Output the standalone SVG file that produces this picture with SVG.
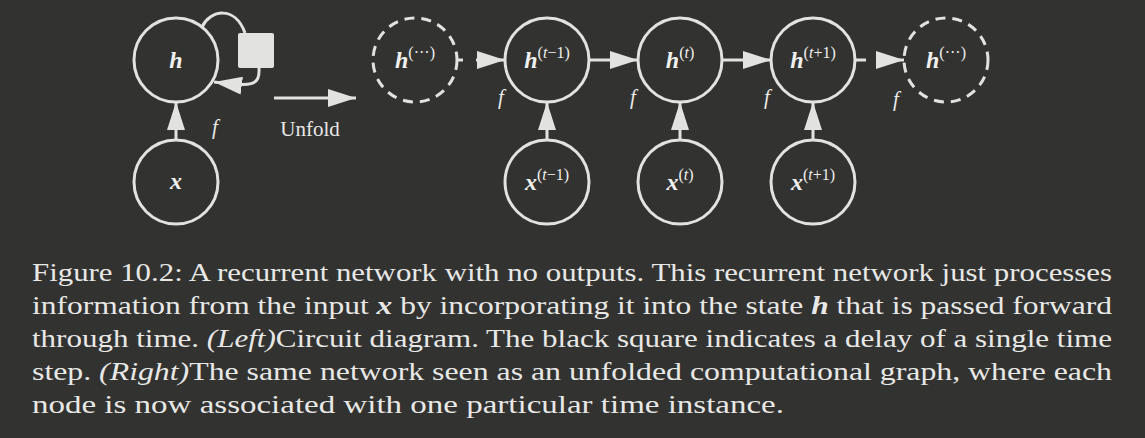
<svg xmlns="http://www.w3.org/2000/svg" width="1145" height="438" viewBox="0 0 1145 438">
<style>
.n{fill:none;stroke:#e2e2e0;stroke-width:3}
.d{stroke-dasharray:10,7}
.e{fill:none;stroke:#e2e2e0;stroke-width:3}
.m{font-family:"Liberation Serif",serif;font-weight:bold;font-style:italic;fill:#f0f0ee;font-size:24px;text-anchor:middle}
.s{font-family:"Liberation Serif",serif;font-style:normal;font-weight:normal;font-size:16px}
.f{font-family:"Liberation Serif",serif;font-style:italic;fill:#e8e8e6;font-size:21px}
.c text{font-family:"Liberation Serif",serif;fill:#e8e8e6;font-size:25px}
</style>
<defs>
<marker id="b" viewBox="0 0 28 18" refX="28" refY="9" markerWidth="28" markerHeight="18" orient="auto" markerUnits="userSpaceOnUse"><path d="M0,0L28,9L0,18z" fill="#e2e2e0"/></marker></defs>
<rect width="1145" height="438" fill="#323231"/>
<g id="connectors">
<path class="e" d="M202,27 C210,10 235,5 245,33" />
<path class="e" d="M259,68 C260,86 252,87 214,82" marker-end="url(#b)"/>
<path class="e" d="M176,140 L176,102" marker-end="url(#b)"/>
<path class="e" d="M274,98 L356,98" marker-end="url(#b)"/>
<path class="e" d="M457,60 L463,60 M476,60 L505,60" marker-end="url(#b)"/>
<path class="e" d="M589,60 L638,60" marker-end="url(#b)"/>
<path class="e" d="M722,60 L771,60" marker-end="url(#b)"/>
<path class="e" d="M855,60 L866,60 M876,60 L904,60" marker-end="url(#b)"/>
<path class="e" d="M547,140 L547,102" marker-end="url(#b)"/>
<path class="e" d="M680,140 L680,102" marker-end="url(#b)"/>
<path class="e" d="M813,140 L813,102" marker-end="url(#b)"/>
</g>
<g id="h"><circle class="n" cx="176" cy="60" r="42"/><text class="m" x="176" y="68">h</text></g>
<g id="x"><circle class="n" cx="176" cy="182" r="42"/><text class="m" x="176" y="189">x</text></g>
<g id="delay"><rect x="238" y="33" width="36" height="35" rx="2" fill="#e2e2e0"/></g>
<text class="f" x="212" y="134">f</text>
<text x="310" y="136" text-anchor="middle" font-family="Liberation Serif, serif" font-size="21" fill="#e8e8e6">Unfold</text>
<g id="hl"><circle class="n d" cx="415" cy="60" r="42"/><text class="m" x="415" y="68">h<tspan class="s" dy="-10">(···)</tspan></text></g>
<g id="h1"><circle class="n" cx="547" cy="60" r="42"/><text class="m" x="547" y="68">h<tspan class="s" dy="-10">(<tspan font-style="italic">t</tspan>−1)</tspan></text></g>
<g id="h2"><circle class="n" cx="680" cy="60" r="42"/><text class="m" x="680" y="68">h<tspan class="s" dy="-10">(<tspan font-style="italic">t</tspan>)</tspan></text></g>
<g id="h3"><circle class="n" cx="813" cy="60" r="42"/><text class="m" x="813" y="68">h<tspan class="s" dy="-10">(<tspan font-style="italic">t</tspan>+1)</tspan></text></g>
<g id="hr"><circle class="n d" cx="946" cy="60" r="42"/><text class="m" x="946" y="68">h<tspan class="s" dy="-10">(···)</tspan></text></g>
<g id="x1"><circle class="n" cx="547" cy="182" r="42"/><text class="m" x="547" y="190">x<tspan class="s" dy="-10">(<tspan font-style="italic">t</tspan>−1)</tspan></text></g>
<g id="x2"><circle class="n" cx="680" cy="182" r="42"/><text class="m" x="680" y="190">x<tspan class="s" dy="-10">(<tspan font-style="italic">t</tspan>)</tspan></text></g>
<g id="x3"><circle class="n" cx="813" cy="182" r="42"/><text class="m" x="813" y="190">x<tspan class="s" dy="-10">(<tspan font-style="italic">t</tspan>+1)</tspan></text></g>
<text class="f" x="498" y="104">f</text>
<text class="f" x="630" y="104">f</text>
<text class="f" x="764" y="104">f</text>
<text class="f" x="893" y="106">f</text>
<g class="c">
<text x="32" y="281" textLength="1080" lengthAdjust="spacingAndGlyphs">Figure 10.2: A recurrent network with no outputs. This recurrent network just processes</text>
<text x="32" y="314" textLength="1080" lengthAdjust="spacingAndGlyphs">information from the input <tspan font-weight="bold" font-style="italic">x</tspan> by incorporating it into the state <tspan font-weight="bold" font-style="italic">h</tspan> that is passed forward</text>
<text x="32" y="347" textLength="1080" lengthAdjust="spacingAndGlyphs">through time. <tspan font-style="italic">(Left)</tspan>Circuit diagram. The black square indicates a delay of a single time</text>
<text x="32" y="380" textLength="1080" lengthAdjust="spacingAndGlyphs">step. <tspan font-style="italic">(Right)</tspan>The same network seen as an unfolded computational graph, where each</text>
<text x="32" y="413" textLength="752" lengthAdjust="spacingAndGlyphs">node is now associated with one particular time instance.</text>
</g>
</svg>
